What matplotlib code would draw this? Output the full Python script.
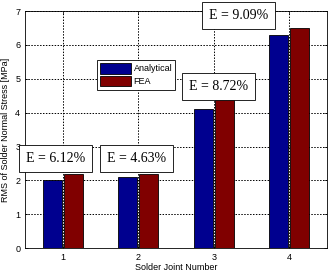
import numpy as np
import matplotlib
matplotlib.use("Agg")
import matplotlib.pyplot as plt

joints = [1, 2, 3, 4]
analytical = [2.0, 2.1, 4.1, 6.3]
fea = [2.2, 2.2, 4.4, 6.5]
error_labels = ["E = 6.12%", "E = 4.63%", "E = 8.72%", "E = 9.09%"]
error_pos = [(0.90, 2.65), (1.98, 2.65), (3.06, 4.76), (3.33, 6.86)]

plt.rcParams['font.family'] = ['Liberation Sans', 'DejaVu Sans']

fig = plt.figure(figsize=(3.3, 2.76), dpi=100)
ax = fig.add_axes([0.076, 0.101, 0.915, 0.859])

x = np.array(joints)
w = 0.25
ax.bar(x - 0.14, analytical, w, color='#00008f', edgecolor='black', linewidth=0.6,
       label='Analytical', zorder=3)
ax.bar(x + 0.14, fea, w, color='#800000', edgecolor='black', linewidth=0.6,
       label='FEA', zorder=3)

ax.set_xlim(0.5, 4.5)
ax.set_ylim(0, 7)
ax.set_xticks(joints)
ax.set_yticks(range(0, 8))
ax.grid(True, linestyle=(0, (1.5, 1.5)), color='black', linewidth=0.7, zorder=4)
ax.set_axisbelow(False)
ax.tick_params(direction='in', labelsize=6.5, length=2, top=True, right=True, width=0.5)
for s in ax.spines.values():
    s.set_linewidth(0.6)

ax.set_xlabel('Solder Joint Number', fontsize=6.5, labelpad=1)
ax.set_ylabel('RMS of Solder Normal Stress [MPa]', fontsize=6.5, labelpad=4)

leg = ax.legend(loc='upper left', bbox_to_anchor=(0.238, 0.793), borderaxespad=0,
                fancybox=False, edgecolor='black', fontsize=6.5, handlelength=3.4,
                handleheight=1.4, borderpad=0.35, labelspacing=0.25, handletextpad=0.3,
                framealpha=1)
leg.get_frame().set_linewidth(0.6)
leg.set_zorder(6)

for lbl, (tx, ty) in zip(error_labels, error_pos):
    ax.text(tx, ty, lbl, ha='center', va='center', fontsize=10,
            family=['Liberation Serif', 'DejaVu Serif'], zorder=7,
            bbox=dict(boxstyle='square,pad=0.5', facecolor='white',
                      edgecolor='black', linewidth=0.6))

fig.savefig('out.png', dpi=100)
